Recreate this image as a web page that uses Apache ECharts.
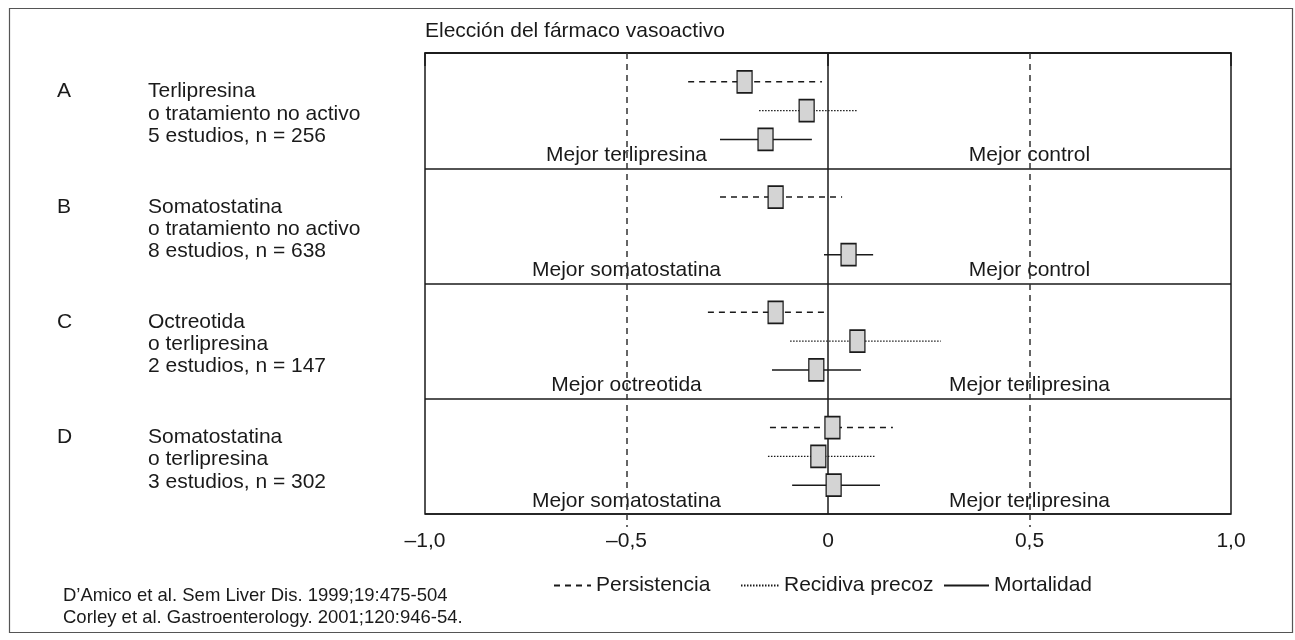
<!DOCTYPE html>
<html>
<head>
<meta charset="utf-8">
<script src="https://cdn.jsdelivr.net/npm/echarts@6/dist/echarts.min.js"></script>
<style>html,body{margin:0;padding:0;background:#fff;}#c{width:1295px;height:640px;}</style>
</head>
<body>
<div id="c"></div>
<script>
// ---- data ----
var panelLetters = ['A', 'B', 'C', 'D'];
var panelLine1 = ['Terlipresina', 'Somatostatina', 'Octreotida', 'Somatostatina'];
var panelLine2 = ['o tratamiento no activo', 'o tratamiento no activo', 'o terlipresina', 'o terlipresina'];
var panelLine3 = ['5 estudios, n = 256', '8 estudios, n = 638', '2 estudios, n = 147', '3 estudios, n = 302'];
var leftFavour = ['Mejor terlipresina', 'Mejor somatostatina', 'Mejor octreotida', 'Mejor somatostatina'];
var rightFavour = ['Mejor control', 'Mejor control', 'Mejor terlipresina', 'Mejor terlipresina'];

var seriesNames = ['Persistencia', 'Recidiva precoz', 'Mortalidad'];
var persEst = [-0.207, -0.130, -0.130, 0.011];
var persLo  = [-0.347, -0.268, -0.298, -0.144];
var persHi  = [-0.015, 0.035, 0.000, 0.161];
var recEst = [-0.053, null, 0.073, -0.024];
var recLo  = [-0.171, null, -0.094, -0.149];
var recHi  = [0.074, null, 0.280, 0.117];
var morEst = [-0.155, 0.051, -0.029, 0.014];
var morLo  = [-0.268, -0.010, -0.139, -0.089];
var morHi  = [-0.040, 0.112, 0.082, 0.129];

var tickValues = [-1, -0.5, 0, 0.5, 1];
var tickLabels = ['\u20131,0', '\u20130,5', '0', '0,5', '1,0'];

var title = 'Elecci\u00f3n del f\u00e1rmaco vasoactivo';
var footnotes = ['D\u2019Amico et al. Sem Liver Dis. 1999;19:475-504', 'Corley et al. Gastroenterology. 2001;120:946-54.'];

// ---- build ----
var FONT = "'Liberation Sans', Arial, Helvetica, sans-serif";
var INK = '#1a1a1a';
var FS = 21;
var ests = [persEst, recEst, morEst];
var los = [persLo, recLo, morLo];
var his = [persHi, recHi, morHi];
var dashes = [[6, 5], [1.5, 1.5], 'solid'];

function ciData(k) {
  var out = [];
  for (var p = 0; p < 4; p++) {
    if (ests[k][p] === null) continue;
    var y = 4 * p + k + 1;
    out.push([los[k][p], y], [his[k][p], y], '-');
  }
  return out;
}
var boxData = [];
for (var k = 0; k < 3; k++) {
  for (var p = 0; p < 4; p++) {
    if (ests[k][p] !== null) boxData.push([ests[k][p], 4 * p + k + 1]);
  }
}
var favourData = [];
for (var p = 0; p < 4; p++) {
  favourData.push({name: leftFavour[p], value: [-0.5, 4 * p + 3.54]});
  favourData.push({name: rightFavour[p], value: [0.5, 4 * p + 3.54]});
}

var series = [];
for (var k = 0; k < 3; k++) {
  series.push({
    name: seriesNames[k], type: 'line', data: ciData(k), symbol: 'none', showSymbol: false,
    connectNulls: false, z: 3, silent: true,
    lineStyle: {color: INK, width: k === 1 ? 1.2 : 1.4, type: dashes[k]},
    itemStyle: {color: INK}
  });
}
series.push({
  name: 'est', type: 'scatter', data: boxData, symbol: 'rect', symbolSize: [15, 22], z: 5, silent: true,
  itemStyle: {color: '#d4d4d4', borderColor: INK, borderWidth: 1.5, opacity: 1}
});
series.push({
  name: 'fav', type: 'scatter', data: favourData, symbolSize: 0, z: 4, silent: true,
  itemStyle: {opacity: 1},
  label: {show: true, position: 'inside', formatter: '{b}', color: INK, opacity: 1, fontSize: FS, fontFamily: FONT},
  markLine: {
    silent: true, symbol: 'none', label: {show: false},
    data: [
      {xAxis: -0.5, lineStyle: {type: [6, 5], color: '#333', width: 1.5}},
      {xAxis: 0, lineStyle: {type: 'solid', color: INK, width: 1.5}},
      {xAxis: 0.5, lineStyle: {type: [6, 5], color: '#333', width: 1.5}}
    ]
  }
});

var graphics = [
  {type: 'rect', shape: {x: 9.5, y: 8.5, width: 1283, height: 624}, style: {fill: 'none', stroke: '#555', lineWidth: 1.2}, silent: true},
  {type: 'text', x: 425, y: 31, style: {text: title, fill: INK, fontSize: FS, fontFamily: FONT, verticalAlign: 'middle'}}
];
for (var p = 0; p < 4; p++) {
  var y0 = 53 + p * 115.25 + 38.5;
  graphics.push({type: 'text', x: 57, y: y0, style: {text: panelLetters[p], fill: INK, fontSize: FS, fontFamily: FONT, verticalAlign: 'middle'}});
  var lines = [panelLine1[p], panelLine2[p], panelLine3[p]];
  for (var i = 0; i < 3; i++) {
    graphics.push({type: 'text', x: 148, y: y0 + i * 22.3, style: {text: lines[i], fill: INK, fontSize: FS, fontFamily: FONT, verticalAlign: 'middle'}});
  }
}
for (var i = 0; i < footnotes.length; i++) {
  graphics.push({type: 'text', x: 63, y: 596 + i * 21.5, style: {text: footnotes[i], fill: INK, fontSize: 18.5, fontFamily: FONT, verticalAlign: 'middle'}});
}

var legendLefts = [553, 740, 943];
var legendWidths = [37, 38, 45];
var legends = [];
for (var k = 0; k < 3; k++) {
  legends.push({
    data: [seriesNames[k]], left: legendLefts[k], top: 575, padding: 0,
    itemWidth: legendWidths[k], itemHeight: 14, itemGap: 0, selectedMode: false,
    itemStyle: {opacity: 0},
    textStyle: {fontSize: FS, color: INK, fontFamily: FONT}
  });
}

var chart = echarts.init(document.getElementById('c'), null, {renderer: 'canvas'});
chart.setOption({
  animation: false,
  backgroundColor: '#fff',
  textStyle: {fontFamily: FONT},
  grid: {left: 425, right: 64, top: 53, bottom: 126, show: true, borderColor: INK, borderWidth: 1.5, backgroundColor: 'transparent'},
  legend: legends,
  xAxis: [{
    type: 'value', min: -1, max: 1, interval: 0.5,
    axisLine: {show: true, lineStyle: {color: INK, width: 1.5}},
    axisTick: {show: true, length: 13, customValues: [-1, 0, 1], lineStyle: {color: INK, width: 1.5}},
    axisLabel: {
      show: true, margin: 17, color: INK, fontSize: FS, fontFamily: FONT,
      formatter: function (v) { var idx = tickValues.indexOf(v); return idx >= 0 ? tickLabels[idx] : ''; }
    },
    splitLine: {show: false}
  }, {
    type: 'value', min: -1, max: 1, interval: 0.5, position: 'bottom',
    axisLine: {show: false},
    axisTick: {show: true, length: 13, customValues: [-0.5, 0.5], lineStyle: {color: '#333', width: 1.5, type: [6, 5]}},
    axisLabel: {show: false},
    splitLine: {show: false}
  }],
  yAxis: {
    type: 'value', min: 0, max: 16, interval: 4, inverse: true,
    axisLine: {show: false}, axisTick: {show: false}, axisLabel: {show: false},
    splitLine: {show: true, lineStyle: {color: INK, width: 1.5}}
  },
  series: series,
  graphic: graphics
});
</script>
</body>
</html>
